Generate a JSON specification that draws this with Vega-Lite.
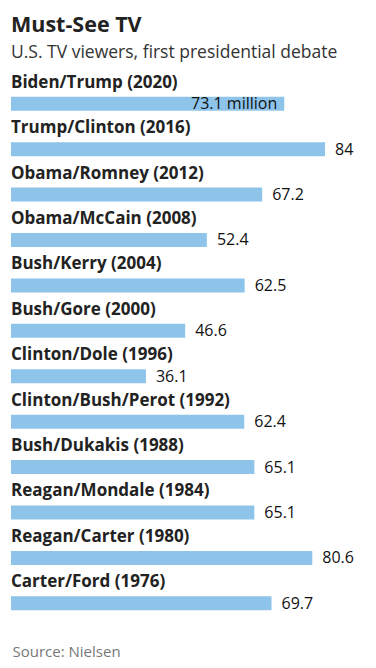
{
  "$schema": "https://vega.github.io/schema/vega-lite/v6.json",
  "autosize": {"type": "none"},
  "width": 314,
  "height": 545,
  "padding": {"left": 11, "top": 81, "right": 51, "bottom": 42},
  "background": "white",
  "config": {"view": {"stroke": null}},
  "title": {
    "text": "Must-See TV",
    "subtitle": "U.S. TV viewers, first presidential debate",
    "anchor": "start",
    "frame": "group",
    "offset": 12,
    "font": "Open Sans",
    "fontSize": 21.5,
    "fontWeight": "bold",
    "color": "#222222",
    "subtitleFont": "Open Sans",
    "subtitleFontSize": 17.5,
    "subtitleColor": "#333333",
    "subtitlePadding": 8
  },
  "data": {
    "values": [
      {"debate": "Biden/Trump (2020)", "year": 2020, "viewers": 73.1},
      {"debate": "Trump/Clinton (2016)", "year": 2016, "viewers": 84},
      {"debate": "Obama/Romney (2012)", "year": 2012, "viewers": 67.2},
      {"debate": "Obama/McCain (2008)", "year": 2008, "viewers": 52.4},
      {"debate": "Bush/Kerry (2004)", "year": 2004, "viewers": 62.5},
      {"debate": "Bush/Gore (2000)", "year": 2000, "viewers": 46.6},
      {"debate": "Clinton/Dole (1996)", "year": 1996, "viewers": 36.1},
      {"debate": "Clinton/Bush/Perot (1992)", "year": 1992, "viewers": 62.4},
      {"debate": "Bush/Dukakis (1988)", "year": 1988, "viewers": 65.1},
      {"debate": "Reagan/Mondale (1984)", "year": 1984, "viewers": 65.1},
      {"debate": "Reagan/Carter (1980)", "year": 1980, "viewers": 80.6},
      {"debate": "Carter/Ford (1976)", "year": 1976, "viewers": 69.7}
    ]
  },
  "encoding": {
    "y": {"field": "debate", "type": "nominal", "sort": null, "axis": null,
          "scale": {"paddingInner": 0, "paddingOuter": 0}},
    "x": {"field": "viewers", "type": "quantitative",
          "scale": {"domain": [0, 84], "nice": false, "zero": true},
          "axis": {"domain": false, "ticks": false, "labels": false, "grid": false,
                   "title": "Source: Nielsen", "titleAnchor": "start", "titleAlign": "left",
                   "titleX": 1, "titleY": 30, "titleBaseline": "alphabetic",
                   "titleFont": "Open Sans", "titleFontSize": 15, "titleFontWeight": "normal",
                   "titleColor": "#777777"}}
  },
  "layer": [
    {"mark": {"type": "bar", "size": 14, "color": "#8ec4ea"}},
    {"mark": {"type": "text", "align": "left", "baseline": "alphabetic", "dy": -16,
              "font": "Open Sans", "fontSize": 17, "fontWeight": "bold", "color": "#222222"},
     "encoding": {"x": {"datum": 0}, "text": {"field": "debate"}}},
    {"transform": [{"filter": "datum.year != 2020"}],
     "mark": {"type": "text", "align": "left", "baseline": "alphabetic", "dx": 10, "dy": 5.5,
              "font": "Open Sans", "fontSize": 16, "color": "#111111"},
     "encoding": {"text": {"field": "viewers", "type": "quantitative", "format": ".3~"}}},
    {"transform": [{"filter": "datum.year == 2020"}],
     "mark": {"type": "text", "align": "right", "baseline": "alphabetic", "dx": -7, "dy": 5.5,
              "font": "Open Sans", "fontSize": 16, "color": "#111111"},
     "encoding": {"text": {"value": "73.1 million"}}}
  ]
}
